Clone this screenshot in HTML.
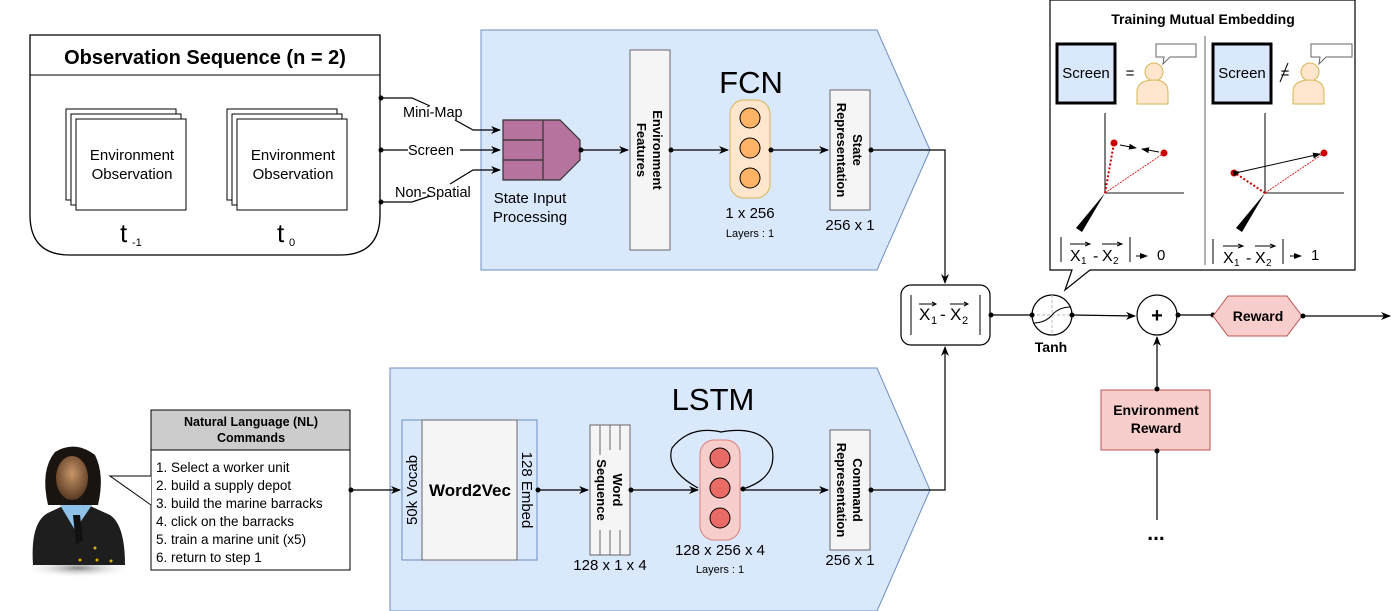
<!DOCTYPE html>
<html><head><meta charset="utf-8"><style>
html,body{margin:0;padding:0;background:#fff;}
svg{display:block;font-family:"Liberation Sans",Arial,sans-serif;}
</style></head><body>
<svg width="1400" height="611" viewBox="0 0 1400 611" xmlns="http://www.w3.org/2000/svg">
<defs>
<marker id="ar" markerWidth="10" markerHeight="8" refX="9" refY="4" orient="auto" markerUnits="userSpaceOnUse"><path d="M0,0 L10,4 L0,8 L3,4 z" fill="#000"/></marker>
<marker id="sa" markerWidth="8" markerHeight="6" refX="7" refY="3" orient="auto" markerUnits="userSpaceOnUse"><path d="M0,0 L8,3 L0,6 z" fill="#000"/></marker>
<marker id="dot" markerWidth="6" markerHeight="6" refX="3" refY="3" markerUnits="userSpaceOnUse"><circle cx="3" cy="3" r="2.5" fill="#000"/></marker>
<radialGradient id="face" cx="0.5" cy="0.4" r="0.6"><stop offset="0" stop-color="#c8966a"/><stop offset="1" stop-color="#5a3a22"/></radialGradient>
<radialGradient id="shadow" cx="0.5" cy="0.5" r="0.5"><stop offset="0" stop-color="#888"/><stop offset="1" stop-color="#fff" stop-opacity="0"/></radialGradient>
</defs>

<polygon points="481,30 877,30 930,150 877,270 481,270" fill="#dae8fc" stroke="#6c8ebf"/>
<polygon points="390,368 877,368 930,490 877,611 390,611" fill="#dae8fc" stroke="#6c8ebf"/>

<path d="M30,35 H380 V215 Q380,255 340,255 H70 Q30,255 30,215 Z" fill="#fff" stroke="#000" stroke-width="1.3"/>
<line x1="30" y1="75" x2="380" y2="75" stroke="#000"/>
<text x="205" y="64" text-anchor="middle" font-size="20" font-weight="bold">Observation Sequence (n = 2)</text>
<g fill="#fff" stroke="#000">
<rect x="66" y="109" width="110" height="91"/><rect x="71" y="114" width="110" height="91"/><rect x="76" y="119" width="110" height="91"/>
<rect x="227" y="109" width="110" height="91"/><rect x="232" y="114" width="110" height="91"/><rect x="237" y="119" width="110" height="91"/>
</g>
<g font-size="15" text-anchor="middle">
<text x="132" y="160">Environment</text><text x="132" y="179">Observation</text>
<text x="293" y="160">Environment</text><text x="293" y="179">Observation</text>
</g>
<text x="120" y="242" font-size="26">t</text><text x="132" y="246" font-size="11">-1</text>
<text x="277" y="242" font-size="26">t</text><text x="289" y="246" font-size="11">0</text>

<g stroke="#000" fill="none" stroke-width="1.2">
<path d="M381,98 H412 L430,106" marker-start="url(#dot)"/>
<path d="M455,120 L473,130 H500" marker-end="url(#ar)"/>
<path d="M381,150 H408" marker-start="url(#dot)"/>
<path d="M460,150 H500" marker-end="url(#ar)"/>
<path d="M381,202 H412 L430,196" marker-start="url(#dot)"/>
<path d="M450,184 L473,170 H500" marker-end="url(#ar)"/>
</g>
<g font-size="14.5">
<text x="403" y="117">Mini-Map</text>
<text x="408" y="155">Screen</text>
<text x="395" y="197">Non-Spatial</text>
</g>
<polygon points="503,120 560,120 580,140 580,160 560,180 503,180" fill="#b5739d" stroke="#333" stroke-width="1.2"/>
<g stroke="#333" stroke-width="1.2"><line x1="543" y1="120" x2="543" y2="180"/><line x1="503" y1="140" x2="543" y2="140"/><line x1="503" y1="160" x2="543" y2="160"/></g>
<text x="530" y="203" font-size="15" text-anchor="middle">State Input</text>
<text x="530" y="222" font-size="15" text-anchor="middle">Processing</text>

<rect x="630" y="50" width="40" height="200" fill="#f5f5f5" stroke="#666"/>
<text transform="translate(650,150) rotate(90)" text-anchor="middle" font-size="13" font-weight="bold"><tspan x="0" y="-3">Environment</tspan><tspan x="0" y="13">Features</tspan></text>
<text x="751" y="93" font-size="31" text-anchor="middle">FCN</text>
<rect x="730" y="100" width="40" height="98" rx="14" fill="#ffe6cc" stroke="#d6b656"/>
<g fill="#ffb366" stroke="#000"><circle cx="750" cy="118" r="10"/><circle cx="750" cy="148" r="10"/><circle cx="750" cy="178" r="10"/></g>
<text x="750" y="218" font-size="15" text-anchor="middle">1 x 256</text>
<text x="750" y="237" font-size="11" text-anchor="middle">Layers : 1</text>
<rect x="830" y="90" width="40" height="120" fill="#f5f5f5" stroke="#666"/>
<text transform="translate(850,150) rotate(90)" text-anchor="middle" font-size="13" font-weight="bold"><tspan x="0" y="-3">State</tspan><tspan x="0" y="13">Representation</tspan></text>
<text x="850" y="230" font-size="15" text-anchor="middle">256 x 1</text>
<g stroke="#000" fill="none" stroke-width="1.2">
<path d="M581,150 H628" marker-start="url(#dot)" marker-end="url(#ar)"/>
<path d="M671,150 H728" marker-start="url(#dot)" marker-end="url(#ar)"/>
<path d="M771,150 H828" marker-start="url(#dot)" marker-end="url(#ar)"/>
<path d="M871,150 H945 V283" marker-start="url(#dot)" marker-end="url(#ar)"/>
</g>

<rect x="151" y="410" width="199" height="160" fill="#fff" stroke="#000"/>
<rect x="151" y="410" width="199" height="40" fill="#cccccc" stroke="#000"/>
<text x="251" y="426" font-size="12.5" font-weight="bold" text-anchor="middle">Natural Language (NL)</text>
<text x="251" y="442" font-size="12.5" font-weight="bold" text-anchor="middle">Commands</text>
<g font-size="13.5">
<text x="156" y="472">1. Select a worker unit</text>
<text x="156" y="490">2. build a supply depot</text>
<text x="156" y="508">3. build the marine barracks</text>
<text x="156" y="526">4. click on the barracks</text>
<text x="156" y="544">5. train a marine unit (x5)</text>
<text x="156" y="562">6. return to step 1</text>
</g>
<path d="M151,476 H110 L151,505" fill="#fff" stroke="#000"/>
<ellipse cx="78" cy="568" rx="55" ry="10" fill="url(#shadow)"/>
<path d="M48,505 Q40,470 55,452 Q75,440 95,455 Q105,475 98,505 Z" fill="#1a1410"/>
<path d="M33,565 Q30,520 50,512 L65,505 H88 L110,515 Q125,525 125,565 Z" fill="#1e1e1e"/>
<path d="M60,505 L75,530 L92,505 Z" fill="#8fc2e8"/>
<path d="M73,515 L80,515 L83,540 L76,545 Z" fill="#111"/>
<ellipse cx="72" cy="478" rx="16" ry="22" fill="url(#face)"/>
<g fill="#e0b000"><circle cx="95" cy="548" r="1.5"/><circle cx="80" cy="560" r="1.5"/><circle cx="97" cy="560" r="1.5"/><circle cx="111" cy="561" r="1.5"/></g>

<text x="713" y="410" font-size="31" text-anchor="middle">LSTM</text>
<rect x="402" y="420" width="135" height="140" fill="#dae8fc" stroke="#6c8ebf"/>
<rect x="422" y="420" width="95" height="140" fill="#f5f5f5" stroke="#666"/>
<text x="470" y="496" font-size="17" font-weight="bold" text-anchor="middle">Word2Vec</text>
<text transform="translate(417,490) rotate(-90)" font-size="15" text-anchor="middle">50k Vocab</text>
<text transform="translate(522,490) rotate(90)" font-size="15" text-anchor="middle">128 Embed</text>
<rect x="590" y="425" width="40" height="130" fill="#f5f5f5" stroke="#666"/>
<g stroke="#666"><line x1="600" y1="425" x2="600" y2="455"/><line x1="610" y1="425" x2="610" y2="450"/><line x1="620" y1="425" x2="620" y2="450"/>
<line x1="600" y1="530" x2="600" y2="555"/><line x1="610" y1="530" x2="610" y2="555"/><line x1="620" y1="530" x2="620" y2="555"/></g>
<text transform="translate(610,490) rotate(90)" text-anchor="middle" font-size="13" font-weight="bold"><tspan x="0" y="-3">Word</tspan><tspan x="0" y="13">Sequence</tspan></text>
<text x="610" y="570" font-size="15" text-anchor="middle">128 x 1 x 4</text>
<path d="M698,488 Q665,470 672,448 Q690,425 721,432 Q760,425 772,448 Q778,478 743,489" fill="none" stroke="#000" stroke-width="1.2" marker-end="url(#dot)"/>
<rect x="700" y="440" width="40" height="100" rx="14" fill="#f8cecc" stroke="#e07f7a"/>
<g fill="#ea6b66" stroke="#000"><circle cx="720" cy="458" r="10"/><circle cx="720" cy="488" r="10"/><circle cx="720" cy="518" r="10"/></g>
<text x="720" y="555" font-size="15" text-anchor="middle">128 x 256 x 4</text>
<text x="720" y="573" font-size="11" text-anchor="middle">Layers : 1</text>
<rect x="830" y="430" width="40" height="120" fill="#f5f5f5" stroke="#666"/>
<text transform="translate(850,490) rotate(90)" text-anchor="middle" font-size="13" font-weight="bold"><tspan x="0" y="-3">Command</tspan><tspan x="0" y="13">Representation</tspan></text>
<text x="850" y="565" font-size="15" text-anchor="middle">256 x 1</text>
<g stroke="#000" fill="none" stroke-width="1.2">
<path d="M351,490 H400" marker-start="url(#dot)" marker-end="url(#ar)"/>
<path d="M538,490 H588" marker-start="url(#dot)" marker-end="url(#ar)"/>
<path d="M631,490 H698" marker-start="url(#dot)" marker-end="url(#ar)"/>
<path d="M741,490 H828" marker-end="url(#ar)"/>
<path d="M871,490 H945 V347" marker-start="url(#dot)" marker-end="url(#ar)"/>
</g>

<rect x="901" y="285" width="89" height="60" rx="10" fill="#fff" stroke="#000" stroke-width="1.2"/>
<line x1="911" y1="295" x2="911" y2="335" stroke="#000"/><line x1="980" y1="295" x2="980" y2="335" stroke="#000"/>
<text x="919" y="320" font-size="17">X</text><text x="931" y="324" font-size="11">1</text>
<text x="940" y="320" font-size="17">-</text>
<text x="950" y="320" font-size="17">X</text><text x="962" y="324" font-size="11">2</text>
<path d="M919,304 H935 M950,304 H967" stroke="#000"/><path d="M932,302 L936,304 L932,306 M964,302 L968,304 L964,306" stroke="#000" fill="none"/>

<path d="M991,315 H1030" stroke="#000" stroke-width="1.2" marker-start="url(#dot)"/>
<circle cx="1052" cy="315" r="20" fill="#fff" stroke="#000" stroke-width="1.2"/>
<path d="M1052,295 V335 M1032,315 H1072" stroke="#bbb" stroke-dasharray="3,2"/>
<path d="M1033,323 Q1045,323 1052,315 Q1059,307 1071,307" fill="none" stroke="#000"/>
<circle cx="1032" cy="315" r="2.5"/><circle cx="1072" cy="315" r="2.5"/>
<text x="1051" y="352" font-size="14" font-weight="bold" text-anchor="middle">Tanh</text>
<path d="M1073,315 L1135,316" stroke="#000" stroke-width="1.2" marker-end="url(#ar)"/>
<circle cx="1157" cy="315" r="20" fill="#fff" stroke="#000" stroke-width="1.2"/>
<text x="1157" y="322" font-size="20" font-weight="bold" text-anchor="middle">+</text>
<path d="M1178,315 H1213" stroke="#000" stroke-width="1.2" marker-start="url(#dot)" marker-end="url(#dot)"/>
<polygon points="1213,316 1228,296 1287,296 1302,316 1287,336 1228,336" fill="#f8cecc" stroke="#b85450"/>
<text x="1258" y="321" font-size="14" font-weight="bold" text-anchor="middle">Reward</text>
<path d="M1303,316 H1390" stroke="#000" stroke-width="1.2" marker-start="url(#dot)" marker-end="url(#ar)"/>
<rect x="1101" y="390" width="109" height="60" fill="#f8cecc" stroke="#b85450"/>
<text x="1156" y="415" font-size="14" font-weight="bold" text-anchor="middle">Environment</text>
<text x="1156" y="433" font-size="14" font-weight="bold" text-anchor="middle">Reward</text>
<path d="M1157,389 V337" stroke="#000" stroke-width="1.2" marker-start="url(#dot)" marker-end="url(#ar)"/>
<path d="M1157,451 V520" stroke="#000" stroke-width="1.2" marker-start="url(#dot)"/>
<text x="1156" y="540" font-size="21" font-weight="bold" text-anchor="middle">...</text>

<path d="M1050,0 H1355 V270 H1090 L1065,290 L1072,270 H1050 Z" fill="#fff" stroke="#000" stroke-width="1.2"/>
<text x="1203" y="24" font-size="14" font-weight="bold" text-anchor="middle">Training Mutual Embedding</text>
<line x1="1205" y1="36" x2="1205" y2="265" stroke="#999" stroke-width="1.5"/>
<rect x="1057" y="44" width="58" height="59" fill="#dae8fc" stroke="#000" stroke-width="3"/>
<text x="1086" y="78" font-size="15" text-anchor="middle">Screen</text>
<text x="1130" y="78" font-size="15" text-anchor="middle">=</text>
<path d="M1156,44 H1196 V57 H1170 L1163,64 L1164,57 H1156 Z" fill="#fff" stroke="#666"/>
<circle cx="1154" cy="72" r="9" fill="#ffe6cc" stroke="#d6b656"/>
<path d="M1137,104 V92 Q1137,80 1154,80 Q1168,80 1168,92 V104 Z" fill="#ffe6cc" stroke="#d6b656"/>
<line x1="1105" y1="113" x2="1105" y2="193" stroke="#000"/>
<line x1="1105" y1="193" x2="1184" y2="193" stroke="#666" stroke-width="1.5"/>
<polygon points="1105,193 1082,232 1076,228" fill="#000"/>
<line x1="1105" y1="193" x2="1114" y2="143" stroke="#c00" stroke-width="2" stroke-dasharray="2,2"/>
<line x1="1105" y1="193" x2="1164" y2="153" stroke="#c00" stroke-width="0.8" stroke-dasharray="2,1"/>
<circle cx="1114" cy="143" r="3.5" fill="#c00"/><circle cx="1164" cy="153" r="3.5" fill="#c00"/>
<path d="M1120,145 L1136,148" stroke="#000" marker-end="url(#sa)"/>
<path d="M1159,152 L1142,149" stroke="#000" marker-end="url(#sa)"/>
<line x1="1061" y1="237" x2="1061" y2="262" stroke="#000"/><line x1="1130" y1="237" x2="1130" y2="262" stroke="#000"/>
<text x="1070" y="261" font-size="16">X</text><text x="1081" y="264" font-size="10">1</text>
<text x="1093" y="261" font-size="16">-</text>
<text x="1102" y="261" font-size="16">X</text><text x="1113" y="264" font-size="10">2</text>
<path d="M1070,244 H1090 M1102,244 H1122 M1085,242 L1090,244 L1085,246 M1117,242 L1122,244 L1117,246" stroke="#000" fill="none"/>
<path d="M1136,256 H1147" stroke="#000" marker-end="url(#sa)"/><text x="1157" y="260" font-size="15">0</text>
<rect x="1213" y="44" width="58" height="59" fill="#dae8fc" stroke="#000" stroke-width="3"/>
<text x="1242" y="78" font-size="15" text-anchor="middle">Screen</text>
<text x="1285" y="78" font-size="15" text-anchor="middle">=</text>
<line x1="1280" y1="82" x2="1288" y2="63" stroke="#000"/>
<path d="M1311,44 H1352 V57 H1326 L1319,64 L1320,57 H1311 Z" fill="#fff" stroke="#666"/>
<circle cx="1310" cy="72" r="9" fill="#ffe6cc" stroke="#d6b656"/>
<path d="M1293,104 V92 Q1293,80 1310,80 Q1324,80 1324,92 V104 Z" fill="#ffe6cc" stroke="#d6b656"/>
<line x1="1265" y1="113" x2="1265" y2="193" stroke="#000"/>
<line x1="1265" y1="193" x2="1344" y2="193" stroke="#666" stroke-width="1.5"/>
<polygon points="1265,193 1242,232 1236,228" fill="#000"/>
<line x1="1265" y1="193" x2="1235" y2="173" stroke="#c00" stroke-width="2" stroke-dasharray="2,2"/>
<line x1="1265" y1="193" x2="1324" y2="153" stroke="#c00" stroke-width="0.8" stroke-dasharray="2,1"/>
<circle cx="1234" cy="173" r="3.5" fill="#c00"/><circle cx="1324" cy="153" r="3.5" fill="#c00"/>
<path d="M1240,172 L1320,154" stroke="#000" marker-start="url(#sa)" marker-end="url(#sa)"/>
<line x1="1213" y1="239" x2="1213" y2="264" stroke="#000"/><line x1="1283" y1="239" x2="1283" y2="264" stroke="#000"/>
<text x="1223" y="263" font-size="16">X</text><text x="1234" y="266" font-size="10">1</text>
<text x="1246" y="263" font-size="16">-</text>
<text x="1255" y="263" font-size="16">X</text><text x="1266" y="266" font-size="10">2</text>
<path d="M1223,246 H1243 M1255,246 H1275 M1238,244 L1243,246 L1238,248 M1270,244 L1275,246 L1270,248" stroke="#000" fill="none"/>
<path d="M1290,256 H1301" stroke="#000" marker-end="url(#sa)"/><text x="1311" y="260" font-size="15">1</text>
</svg>
</body></html>
